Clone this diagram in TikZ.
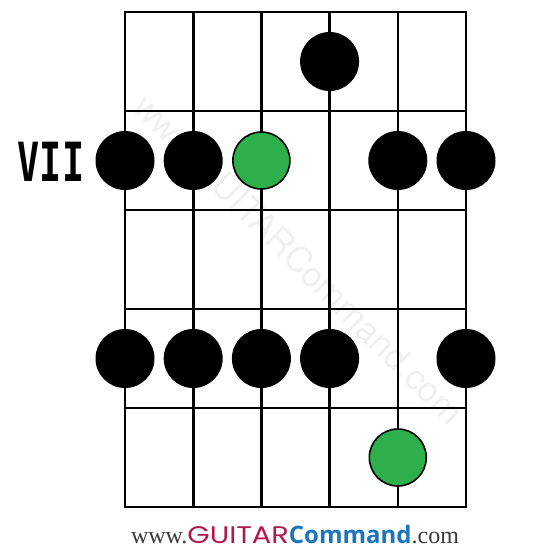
\documentclass[tikz,border=0pt]{standalone}
\usepackage{fontspec}
\usepackage{graphicx}
\setmainfont{Liberation Serif}
\newfontfamily\fretfont{DejaVu Sans Mono}
\newfontfamily\markfont{TeX Gyre Heros}
\newfontfamily\guitarfont{Poppins}
\newfontfamily\cmdfont{Open Sans}

\definecolor{rootgreen}{HTML}{2DB04B}
\definecolor{guitarred}{HTML}{B0174B}
\definecolor{cmdblue}{HTML}{1B75BC}
\definecolor{wwwgray}{HTML}{3A3A3A}

\tikzset{
  string/.style={line width=2.6pt},
  note/.style={circle, fill=black, minimum size=59pt, inner sep=0pt},
  root/.style={note, fill=rootgreen, draw=black, line width=1.6pt, minimum size=57pt},
}

\begin{document}
\begin{tikzpicture}[x=1pt, y=-1pt]
    % --- Definitions ---
    % String spacing and fret spacing
    \def\sw{68.2}
    \def\fh{99}
    \useasboundingbox (0,0) rectangle (550,550);

    % Fret positions (string s, fret f), centre of each cell
    \foreach \s in {1,...,6}
      \foreach \f in {1,...,5}
        \coordinate (s\s f\f) at ({125+(\s-1)*\sw}, {12+(\f-0.5)*\fh});

    % --- Watermark ---
    \node[rotate=-45, text=black!6, font=\markfont\fontsize{35}{35}\selectfont]
      (mark) at (299,259) {www.GUITARCommand.com};

    % --- Grid ---
    % 1. Strings
    \foreach \s in {0,...,5}
      \draw[string] ({125+\s*\sw}, 12) -- ({125+\s*\sw}, {12+5*\fh});
    % 2. Frets
    \foreach \f in {0,...,5}
      \draw[string] (123.7, {12+\f*\fh}) -- (467.3, {12+\f*\fh});

    % --- Notes ---
    \node[note] (n41) at (s4f1) {};

    \node[note] (n12) at (s1f2) {};
    \node[note] (n22) at (s2f2) {};
    \node[root] (r32) at (s3f2) {};
    \node[note] (n52) at (s5f2) {};
    \node[note] (n62) at (s6f2) {};

    \node[note] (n14) at (s1f4) {};
    \node[note] (n24) at (s2f4) {};
    \node[note] (n34) at (s3f4) {};
    \node[note] (n44) at (s4f4) {};
    \node[note] (n64) at (s6f4) {};

    \node[root] (r55) at (s5f5) {};

    % --- Labels ---
    % Fret number next to the second fret
    \node[font=\fretfont\bfseries\fontsize{54}{54}\selectfont] (fret) at (51,162)
      {\scalebox{0.68}[1]{VII}};

    % Site name below the grid
    \node[anchor=base, inner sep=0pt] (site) at (295,543)
      {\fontsize{24}{24}\selectfont\color{wwwgray}www.%
       {\guitarfont\color{guitarred}\scalebox{1.2}[1]{GUITAR}}%
       {\cmdfont\bfseries\color{cmdblue}Command}.com};

\end{tikzpicture}
\end{document}
